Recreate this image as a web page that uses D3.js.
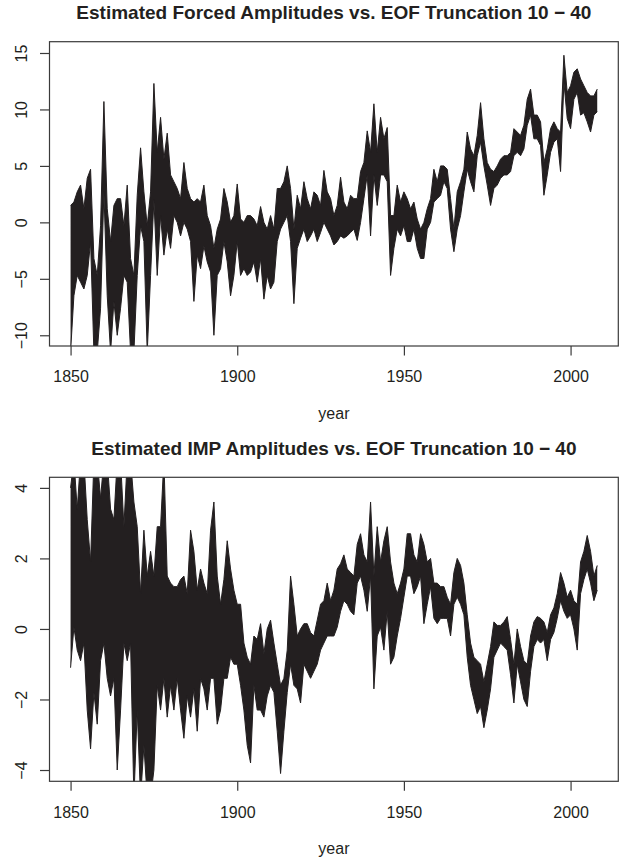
<!DOCTYPE html>
<html>
<head>
<meta charset="utf-8">
<script src="https://cdn.jsdelivr.net/npm/d3@7"></script>
<style>
  body { margin: 0; background: #fff; }
  text { font-family: "Liberation Sans", Arial, sans-serif; fill: #231f20; }
</style>
</head>
<body>
<svg id="chart" width="619" height="861"></svg>
<script>
// first year of every series, one value per year up to 2008
const firstYear = 1850;

// forced amplitudes: highest and lowest of the truncation 10..40 curves
const forcedUpper = [
  1.5, 1.8, 2.7, 3.3, 1.2, 3.9, 4.7, -3.2, -4.7, -0.3,
  10.7, 1.2, -1.7, 1.5, 2.1, 2.1, -0.3, 3.3, -3.2, -4.7,
  2.4, 6.6, 2.7, -0.3, 2.7, 12.3, 6.2, 9.3, 5.6, 7.9,
  4.2, 3.6, 3.0, 2.1, 5.3, 3.0, 2.1, 1.8, 2.1, 1.8,
  3.3, 0.6, -0.3, -2.3, -0.6, 0.3, 3.0, 1.8, 0.0, 0.6,
  3.4, 0.3, 0.0, 0.6, 0.6, 0.3, -0.3, 1.4, 0.0, -0.6,
  0.6, -0.6, 3.0, 3.0, 3.6, 5.0, 3.0, -0.6, 2.4, 1.2,
  3.6, 2.1, 1.2, 2.7, 2.4, 1.5, 4.6, 2.7, 2.1, 0.6,
  1.5, 4.0, 1.8, 1.2, 2.4, 2.1, 2.1, 4.5, 5.3, 8.1,
  6.2, 10.5, 6.2, 9.3, 7.4, 8.4, 0.6, 0.6, 3.3, 1.8,
  2.7, 2.1, 1.2, 1.8, 0.3, -0.6, 0.0, 1.2, 2.1, 4.7,
  3.6, 5.0, 5.0, 4.7, 2.1, -0.6, 2.7, 3.6, 4.7, 8.0,
  6.5, 5.9, 7.7, 10.6, 7.4, 5.3, 4.7, 4.5, 5.0, 5.6,
  5.9, 5.9, 6.2, 8.3, 8.0, 7.7, 8.6, 10.9, 11.8, 9.5,
  9.5, 8.9, 5.3, 6.5, 8.3, 8.9, 8.3, 8.0, 14.8, 11.5,
  12.1, 13.3, 13.6, 12.7, 12.1, 11.5, 11.2, 11.2, 11.8
];
const forcedLower = [
  -11.5, -6.5, -4.7, -5.3, -5.9, -4.7, -1.7, -11.5, -11.5, -7.6,
  2.7, -6.5, -11.5, -7.0, -10.0, -7.6, -4.7, -5.3, -11.5, -11.5,
  -4.7, -0.3, -1.7, -11.5, -4.7, 2.0, -4.7, 0.6, -2.9, -0.6,
  -2.3, 0.6, 0.0, -1.2, 0.0, -0.6, -1.7, -7.0, -2.9, -4.1,
  -2.1, -3.5, -4.4, -10.0, -4.7, -4.1, -1.7, -3.5, -6.5, -4.7,
  -1.7, -4.7, -4.1, -4.7, -4.4, -3.5, -5.3, -3.2, -6.8, -4.7,
  -5.9, -5.3, -1.7, -0.6, 0.0, 0.6, -1.7, -7.2, -2.3, -1.4,
  -0.6, -1.7, -1.2, -0.6, -1.7, -0.9, 0.0, -0.6, -1.2, -2.0,
  -1.7, -1.2, -1.4, -1.2, -0.9, -0.6, -1.6, 0.0, 2.1, 4.2,
  -1.2, 4.2, 1.5, 4.2, 4.2, 3.6, -4.7, -2.3, -0.6, -1.2,
  -0.3, -1.7, -1.7, -0.6, -2.3, -3.2, -3.2, -0.6, 0.0, 1.8,
  2.1, 2.4, 3.6, 3.0, -0.6, -2.6, -0.6, 0.6, 2.7, 4.7,
  3.6, 2.7, 5.9, 7.1, 5.0, 3.3, 1.5, 3.0, 3.3, 3.9,
  4.2, 4.2, 4.5, 5.9, 6.2, 5.9, 6.5, 8.6, 9.5, 7.4,
  7.4, 6.8, 2.4, 4.2, 6.2, 7.1, 7.4, 4.5, 12.4, 9.2,
  8.3, 10.9, 11.5, 9.5, 9.7, 8.9, 8.0, 9.5, 9.8
];

// IMP amplitudes: highest and lowest curves
const impUpper = [
  4.0, 4.8, 3.4, 4.8, 4.8, 3.1, 1.9, 4.8, 4.8, 3.7,
  4.8, 4.8, 3.4, 3.1, 4.8, 4.8, 2.9, 4.8, 4.8, 3.6,
  2.9, 1.0, 2.8, 1.5, 2.2, 1.5, 2.9, 2.9, 4.8, 1.5,
  1.3, 1.2, 1.2, 1.4, 1.5, 1.0, 2.8, 2.2, 1.1, 1.7,
  1.3, 1.0, 2.8, 3.6, 1.5, 0.7, 1.4, 2.5, 1.7, 1.1,
  0.7, 0.7, -0.4, -0.8, -1.0, -0.2, -0.3, 0.15, -0.7, 0.0,
  0.25, -0.4, -1.0, -1.6, -1.4, -0.6, 1.5, 0.7, -0.2, 0.0,
  0.15, 0.15, -0.1, -0.2, 0.25, 0.7, 0.8, 1.3, 0.8, 1.1,
  1.7, 1.85, 2.1, 1.7, 1.6, 1.5, 2.4, 2.7, 2.1, 1.9,
  3.6, 1.5, 2.9, 1.9, 2.5, 2.9, 1.9, 1.3, 1.0, 1.3,
  1.7, 2.7, 2.7, 2.1, 1.9, 2.7, 2.4, 1.9, 2.0, 1.3,
  1.3, 1.2, 1.2, 0.9, 0.7, 1.6, 2.0, 1.8, 1.3, 0.4,
  -0.4, -0.8, -0.9, -1.0, -1.5, -1.0, -0.5, 0.2, 0.1, 0.1,
  0.2, 0.35, -0.3, -1.0, 0.0, -0.5, -0.9, -1.0, -0.2, 0.2,
  0.35, 0.3, 0.2, -0.1, 0.4, 0.6, 1.0, 1.6, 1.3, 0.9,
  1.1, 0.8, 0.7, 1.9, 2.2, 2.65, 2.2, 1.5, 1.8
];
const impLower = [
  -1.1, 0.05, -0.6, -0.9, -0.4, -2.3, -3.4, -1.8, -2.7, -0.9,
  -0.4, -1.4, -1.9, -1.4, -4.0, -2.3, -0.4, -0.9, -0.4, -4.8,
  -2.3, -4.8, -3.3, -4.8, -4.8, -4.0, -1.6, -2.3, -1.4, -2.5,
  -1.6, -2.3, -1.4, -2.3, -3.1, -1.9, -2.5, -1.7, -2.9, -1.4,
  -1.7, -2.3, -1.4, -1.4, -2.7, -2.3, -1.4, -1.4, -0.8, -1.0,
  -1.0, -1.6, -2.3, -3.3, -3.8, -1.6, -2.3, -2.3, -2.5, -1.9,
  -1.6, -1.8, -2.9, -4.1, -2.9, -1.8, -1.0, -1.6, -1.7, -2.1,
  -1.0, -1.2, -1.4, -1.2, -1.0, -0.6, -0.4, -0.2, -0.2, -0.2,
  0.05, 0.5, 0.8, 0.7, 0.5, 0.4, 1.3, 1.5, 1.1, 0.5,
  1.5, -1.7, -0.2, 0.05, -0.6, 0.5, -1.0, -0.8, -0.2, 0.3,
  0.9, 1.5, 1.5, 1.0, 1.2, 1.5, 0.15, 0.7, 1.2, 0.3,
  0.15, 0.3, 0.3, 0.3, -0.2, 0.7, 0.9, 0.7, 0.4, -0.8,
  -1.6, -2.0, -2.4, -2.2, -2.8, -2.3, -1.7, -0.8, -0.6, -0.4,
  -0.5, -0.6, -1.3, -2.1, -1.0, -1.5, -2.0, -2.2, -1.2, -0.5,
  -0.3, -0.4, -0.3, -0.9, -0.3, -0.1, 0.3, 0.8, 0.5, 0.3,
  0.4, 0.0, -0.6, 1.0, 1.4, 1.7, 1.3, 0.8, 1.1
];

const xTicks = [1850, 1900, 1950, 2000];
const forcedTicks = [-10, -5, 0, 5, 10, 15];
const impTicks = [-4, -2, 0, 2, 4];

const years = d3.range(firstYear, firstYear + forcedUpper.length);
const ink = "#231f20";
const svg = d3.select("#chart");

const left = 49.5, right = 618.3;
const pad = (years[years.length - 1] - years[0]) * 0.04;
const x = d3.scaleLinear()
  .domain([years[0] - pad, years[years.length - 1] + pad])
  .range([left, right]);

function drawPanel(id, top, bottom, yDomain, yTicks, upper, lower, title) {
  const y = d3.scaleLinear().domain(yDomain).range([bottom, top]);
  const rows = years.map((yr, i) => ({ yr: yr, hi: upper[i], lo: lower[i] }));

  svg.append("clipPath").attr("id", id)
    .append("rect")
    .attr("x", left).attr("y", top)
    .attr("width", right - left).attr("height", bottom - top);

  const g = svg.append("g").attr("clip-path", "url(#" + id + ")");

  g.append("path")
    .datum(rows)
    .attr("fill", ink)
    .attr("d", d3.area().x(d => x(d.yr)).y0(d => y(d.lo)).y1(d => y(d.hi)));

  [upper, lower].forEach(s => {
    g.append("path")
      .datum(s)
      .attr("fill", "none")
      .attr("stroke", ink)
      .attr("stroke-width", 1)
      .attr("stroke-linejoin", "miter")
      .attr("d", d3.line().x((d, i) => x(years[i])).y(d => y(d)));
  });

  // box
  svg.append("rect")
    .attr("x", left).attr("y", top)
    .attr("width", right - left).attr("height", bottom - top)
    .attr("fill", "none").attr("stroke", "#3a3a3a").attr("stroke-width", 1.2);

  // x axis
  const xa = svg.append("g")
    .attr("transform", "translate(0," + bottom + ")")
    .call(d3.axisBottom(x).tickValues(xTicks).tickFormat(d3.format("d"))
      .tickSize(9.5).tickPadding(15.4));
  xa.select(".domain").remove();
  xa.selectAll("line").attr("stroke", "#3a3a3a").attr("stroke-width", 1.2);
  xa.selectAll("text").attr("font-size", 16).attr("fill", ink)
    .style("font-family", "'Liberation Sans', Arial, sans-serif");

  // y axis, labels turned like R's las = 0
  const ya = svg.append("g")
    .attr("transform", "translate(" + left + ",0)")
    .call(d3.axisLeft(y).tickValues(yTicks).tickSize(9.5));
  ya.select(".domain").remove();
  ya.selectAll("line").attr("stroke", "#3a3a3a").attr("stroke-width", 1.2);
  ya.selectAll("text")
    .attr("x", null).attr("dy", null)
    .attr("text-anchor", "middle")
    .attr("transform", "translate(-23,0) rotate(-90)")
    .attr("font-size", 16).attr("fill", ink)
    .style("font-family", "'Liberation Sans', Arial, sans-serif")
    .text(d => d < 0 ? "\u2212" + Math.abs(d) : d);

  svg.append("text")
    .attr("x", (left + right) / 2).attr("y", top - 22.4)
    .attr("text-anchor", "middle")
    .attr("font-size", 19).attr("font-weight", "bold")
    .text(title);

  svg.append("text")
    .attr("x", (left + right) / 2).attr("y", bottom + 72.7)
    .attr("text-anchor", "middle")
    .attr("font-size", 16)
    .text("year");
}

drawPanel("clipForced", 41.7, 346, [-10.95, 16], forcedTicks, forcedUpper, forcedLower,
  "Estimated Forced Amplitudes vs. EOF Truncation 10 \u2212 40");
drawPanel("clipImp", 477.3, 781.3, [-4.32, 4.30], impTicks, impUpper, impLower,
  "Estimated IMP Amplitudes vs. EOF Truncation 10 \u2212 40");
</script>
</body>
</html>
